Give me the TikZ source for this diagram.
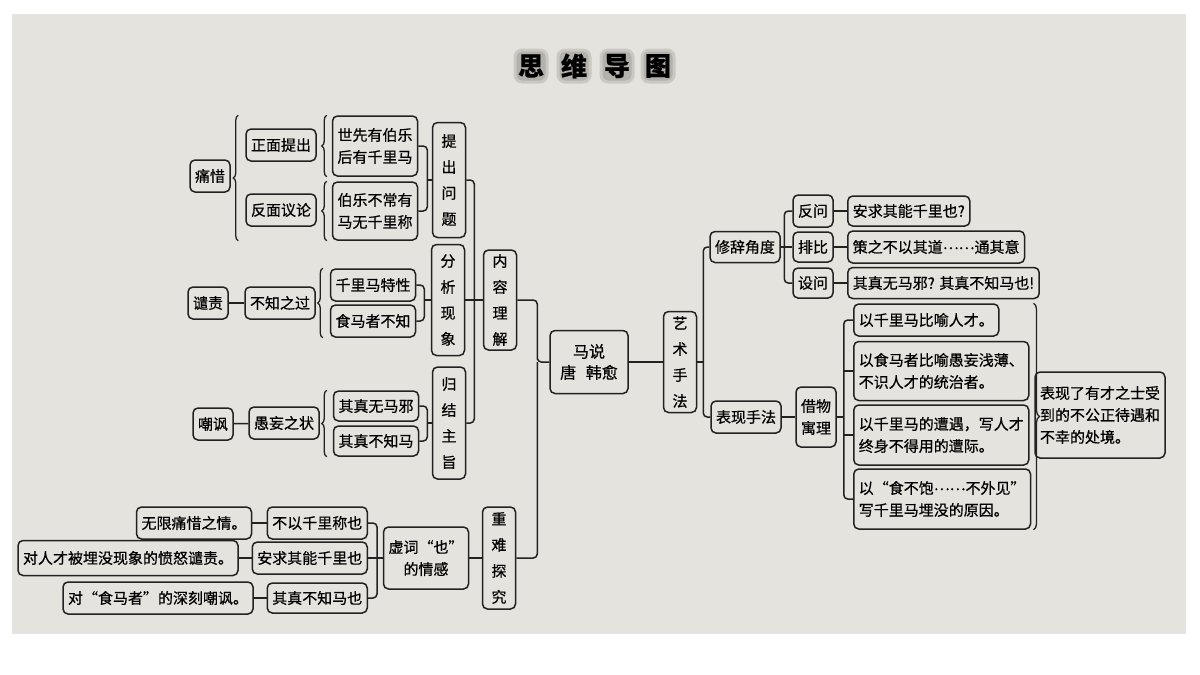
\documentclass[tikz,border=0pt]{standalone}
\usepackage{fontspec}
\setmainfont{Noto Sans CJK SC}[FakeBold=0.6]
\usetikzlibrary{decorations.pathreplacing, calc}
\definecolor{ink}{HTML}{222222}
\definecolor{paper}{HTML}{E4E3DE}
\definecolor{tgrey}{HTML}{B4B1AA}
\newcommand\middots{\raisebox{0.45ex}{……}}
\tikzset{
  every picture/.style={line width=1.5pt},
  box/.style={draw=ink, rounded corners=5pt, align=center, inner xsep=5pt, inner ysep=2pt, minimum height=32pt, font=\fontsize{15}{22}\selectfont},
  vbox/.style={box, inner xsep=9pt, font=\fontsize{15}{26}\selectfont},
  link/.style={draw=ink, rounded corners=4pt},
  curly/.style={draw=ink, line width=1.3pt, decorate, decoration={brace, amplitude=5pt}},
  tchar/.style={fill=tgrey, draw=tgrey!70, line width=3pt, rounded corners=7pt, minimum size=32pt, inner sep=0pt, font=\fontsize{26}{26}\selectfont\bfseries},
}
\begin{document}
\begin{tikzpicture}[x=1pt, y=-1pt]
  \useasboundingbox (0,0) rectangle (1200,675);
  \fill[paper] (12,14) rectangle (1186,634);
  % title
  \foreach \c/\x [count=\i] in {思/531, 维/574, 导/617, 图/658}
    \node[tchar] (t\i) at (\x,66) {\c};
  % content: left branches
  \node[box] (tx) at (210,176) {痛惜};
  \node[box] (zm) at (281,145) {正面提出};
  \node[box] (fm) at (281,210) {反面议论};
  \node[box, minimum height=60pt] (s1) at (375,146) {世先有伯乐\\后有千里马};
  \node[box, minimum height=58pt] (s2) at (375,211) {伯乐不常有\\马无千里称};
  \node[vbox, minimum height=115pt] (tc) at (449,180) {提\\出\\问\\题};
  \node[box] (qz) at (208,303) {谴责};
  \node[box] (bz) at (280,303) {不知之过};
  \node[box] (q1) at (373,285) {千里马特性};
  \node[box] (q2) at (373,321) {食马者不知};
  \node[vbox, minimum height=111pt] (fx) at (448,300) {分\\析\\现\\象};
  \node[vbox, minimum height=100pt] (nr) at (500,300) {内\\容\\理\\解};
  \node[box] (cf) at (213,424) {嘲讽};
  \node[box] (yw) at (284,423) {愚妄之状};
  \node[box, minimum height=30pt] (g1) at (376,406) {其真无马邪};
  \node[box, minimum height=30pt] (g2) at (376,441) {其真不知马};
  \node[vbox, minimum height=112pt] (gj) at (449,423) {归\\结\\主\\旨};
  % bottom: 也
  \node[box] (e1) at (194,523) {无限痛惜之情。};
  \node[box, anchor=east] (y1) at (368,523) {不以千里称也};
  \node[box, minimum height=35pt] (e2) at (128,558) {对人才被埋没现象的愤怒谴责。};
  \node[box, anchor=east] (y2) at (368,558) {安求其能千里也};
  \node[box] (e3) at (158,598) {对“食马者”的深刻嘲讽。};
  \node[box, anchor=east, minimum height=30pt] (y3) at (368,598) {其真不知马也};
  \node[box, minimum height=62pt] (xy) at (426,558) {虚词“也”\\的情感};
  \node[vbox, minimum height=102pt] (zn) at (499,558) {重\\难\\探\\究};
  % centre
  \node[box, minimum width=78pt, minimum height=63pt, font=\fontsize{16}{21}\selectfont] (ms) at (589,362) {马说\\唐\hspace{0.6em}韩愈};
  \node[vbox, minimum height=101pt] (ys) at (680,362) {艺\\术\\手\\法};
  % right branches
  \node[box, minimum height=31pt] (xc) at (745,247) {修辞角度};
  \node[box] (fw) at (813,211) {反问};
  \node[box, minimum height=30pt] (pb) at (813,247) {排比};
  \node[box, minimum height=30pt] (sw) at (813,283) {设问};
  \node[box, anchor=west, minimum height=30pt] (a1) at (847,211) {安求其能千里也?};
  \node[box, anchor=west] (a2) at (847,247) {策之不以其道\middots 通其意};
  \node[box, anchor=west, minimum height=31pt] (a3) at (847,283) {其真无马邪? 其真不知马也!};
  \node[box] (bx) at (746,417) {表现手法};
  \node[box, minimum height=60pt] (jw) at (816,417) {借物\\寓理};
  \node[box, anchor=west, align=left] (j1) at (853,320) {以千里马比喻人才。};
  \node[box, anchor=west, align=left, minimum height=59pt] (j2) at (853,371) {以食马者比喻愚妄浅薄、\\不识人才的统治者。};
  \node[box, anchor=west, align=left, minimum height=60pt] (j3) at (853,435) {以千里马的遭遇，写人才\\终身不得用的遭际。};
  \node[box, anchor=west, align=left, minimum height=60pt] (j4) at (853,499) {以“食不饱\middots 不外见”\\写千里马埋没的原因。};
  \node[box, align=left, minimum height=86pt] (bj) at (1100,415) {表现了有才之士受\\到的不公正待遇和\\不幸的处境。};
  % joints
  \coordinate (jt) at ([xshift=9pt]s1.east |- tc.west);
  \coordinate (jf) at ([xshift=8pt]q1.east |- fx.west);
  \coordinate (jg) at ([xshift=8pt]g1.east |- gj.west);
  \coordinate (jn) at ([xshift=9pt]fx.east |- nr.west);
  \coordinate (jm) at ([xshift=-12pt]ms.west);
  \coordinate (jh) at ([xshift=9pt]y1.east |- xy.west);
  \coordinate (jy) at ([xshift=6pt]ys.east);
  \coordinate (jx) at ([xshift=-8pt]pb.west);
  \coordinate (jj) at ([xshift=7pt]jw.east);
  % braces
  \draw[curly] ([xshift=-7pt]zm.west |- s2.south) -- ([xshift=-7pt]zm.west |- s1.north);
  \draw[curly] ([xshift=-5pt]s1.south west) -- ([xshift=-5pt]s1.north west);
  \draw[curly] ([xshift=-5pt]s2.south west) -- ([xshift=-5pt]s2.north west);
  \draw[curly] ([xshift=-7pt]q2.south west) -- ([xshift=-7pt]q1.north west);
  \draw[curly] ([xshift=-6pt]g2.south west) -- ([xshift=-6pt]g1.north west);
  \draw[curly, decoration={amplitude=6pt}] ([xshift=4pt]j3.east |- j1.north) -- ([xshift=4pt]j3.east |- j4.south);
  % connectors
  \draw[link] (s1.east) -| (jt) |- (s2.east);
  \draw[link] (jt) -- (tc.west);
  \draw[link] (qz) -- (bz);
  \draw[link] (q1.east) -| (jf) |- (q2.east);
  \draw[link] (jf) -- (fx.west);
  \draw[link] (cf) -- (yw);
  \draw[link] (g1.east) -| (jg) |- (g2.east);
  \draw[link] (jg) -- (gj.west);
  \draw[link] (tc.east) -| (jn) |- (gj.east);
  \draw[link] (fx.east) -- (nr.west);
  \draw[link] (nr.east) -| (jm) |- (ms.west);
  \draw[link] (zn.east) -| (jm);
  \draw[link] (e1) -- (y1);
  \draw[link] (e2) -- (y2);
  \draw[link] (e3) -- (y3);
  \draw[link] (y1.east) -| (jh) |- (y3.east);
  \draw[link] (y2.east) -- (xy.west);
  \draw[link] (xy) -- (zn);
  \draw[link] (ms) -- (ys);
  \draw[link] (ys.east) -- (jy);
  \draw[link] (xc.west) -| (jy) |- (bx.west);
  \draw[link] (fw.west) -| (jx) |- (sw.west);
  \draw[link] (xc.east) -- (pb.west);
  \draw[link] (fw) -- (a1);
  \draw[link] (pb) -- (a2);
  \draw[link] (sw) -- (a3);
  \draw[link] (bx) -- (jw);
  \draw[link] (jw.east) -- (jj);
  \draw[link] (j1.west) -| (jj) |- (j4.west);
  \draw[link] (jj |- j2.west) -- (j2.west);
  \draw[link] (jj |- j3.west) -- (j3.west);
\end{tikzpicture}
\end{document}
